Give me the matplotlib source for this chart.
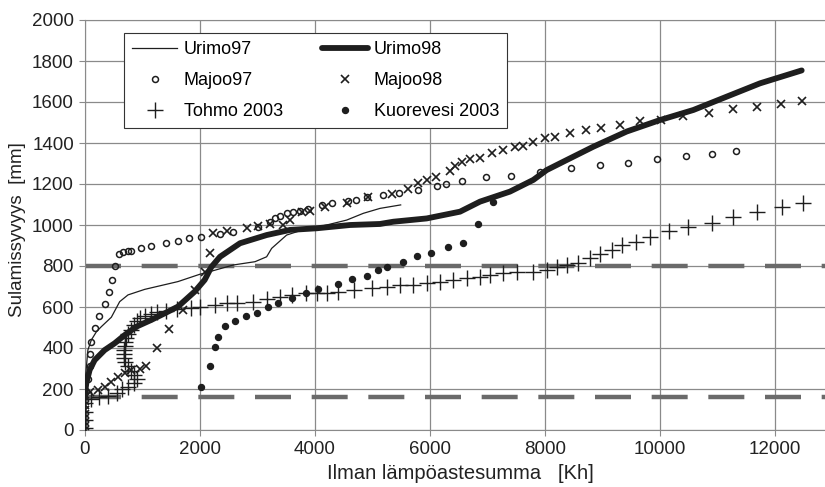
import matplotlib.pyplot as plt

plt.rcParams['font.family'] = ['Liberation Sans', 'DejaVu Sans']

# Urimo97 (ohut viiva)
urimo97_x = [0, 50, 110, 200, 284, 458, 603, 748, 1038, 1617, 2000, 2139, 2580, 2957,
             3159, 3246, 3507, 3739, 4203, 4551, 4841, 5130, 5490]
urimo97_y = [230, 390, 439, 480, 504, 550, 626, 659, 686, 724, 760, 770, 805, 821,
             845, 886, 951, 972, 1000, 1024, 1057, 1081, 1098]

# Urimo98 (paksu viiva)
urimo98_x = [0, 10, 23, 81, 168, 342, 516, 690, 893, 1153, 1385, 1617, 1907, 2081, 2197,
             2348, 2696, 3159, 3565, 4029, 4609, 5130, 5362, 5942, 6522, 6870, 7391, 7797,
             8029, 8377, 8841, 9421, 10000, 10580, 11159, 11739, 12464]
urimo98_y = [160, 200, 228, 293, 341, 390, 423, 463, 504, 537, 569, 602, 675, 732, 795,
             845, 911, 951, 976, 984, 1000, 1005, 1016, 1032, 1065, 1114, 1163, 1220,
             1268, 1317, 1382, 1456, 1512, 1561, 1626, 1691, 1754]

majoo97_x = [20, 50, 80, 80, 110, 170, 240, 350, 410, 470, 530, 590, 660, 740, 800, 970,
             1150, 1410, 1620, 1810, 2010, 2348, 2580, 3014, 3217, 3304, 3391, 3507, 3623,
             3739, 3884, 4116, 4290, 4580, 4714, 4899, 5177, 5467, 5797, 6127, 6278, 6551,
             6968, 7413, 7913, 8452, 8957, 9438, 9942, 10452, 10898, 11316]
majoo97_y = [190, 250, 310, 370, 430, 500, 556, 615, 675, 732, 800, 860, 870, 872, 875, 890,
             900, 910, 920, 935, 943, 956, 967, 992, 1016, 1032, 1044, 1057, 1065,
             1070, 1076, 1098, 1106, 1119, 1122, 1135, 1146, 1158, 1171, 1190, 1200, 1216,
             1232, 1241, 1260, 1276, 1293, 1301, 1320, 1337, 1345, 1362]

majoo98_x = [0, 0, 0, 0, 0, 0, 0, 0, 0, 81, 226, 342, 458, 574, 690, 806, 950, 1066, 1252,
             1461, 1704, 1907, 2081, 2174, 2226, 2464, 2812, 3000, 3217, 3449, 3565, 3768,
             3913, 4174, 4551, 4927, 5333, 5623, 5797, 5942, 6104, 6348, 6435, 6551, 6696,
             6870, 7072, 7275, 7478, 7623, 7797, 7999, 8174, 8435, 8713, 8974, 9304, 9652,
             10017, 10405, 10857, 11263, 11692, 12103, 12464]
majoo98_y = [0, 20, 40, 60, 80, 100, 120, 140, 160, 187, 195, 211, 236, 260, 276, 293, 300,
             314, 402, 495, 585, 683, 772, 865, 959, 971, 984, 995, 1005, 1000, 1024, 1065,
             1070, 1090, 1109, 1135, 1151, 1176, 1203, 1220, 1236, 1265, 1288, 1309, 1320,
             1325, 1350, 1366, 1382, 1385, 1406, 1422, 1428, 1447, 1463, 1471, 1488, 1509,
             1512, 1532, 1548, 1564, 1574, 1590, 1606]

tohmo_x = [0, 0, 0, 0, 100, 250, 400, 550, 650, 750, 850, 900, 850, 800, 750, 700, 680, 680,
           680, 690, 700, 720, 750, 800, 850, 900, 950, 1050, 1150, 1250, 1400, 1600, 1850,
           2000, 2261, 2464, 2638, 2928, 3159, 3391, 3594, 3843, 4029, 4203, 4406, 4678, 4986,
           5250, 5478, 5710, 5942, 6174, 6406, 6638, 6870, 7044, 7275, 7507, 7797, 8029,
           8203, 8377, 8580, 8783, 8957, 9159, 9333, 9583, 9826, 10162, 10492, 10898, 11275,
           11692, 12116, 12492]
tohmo_y = [10, 50, 90, 130, 150, 160, 165, 180, 200, 210, 230, 250, 270, 290, 310, 330, 350,
           370, 390, 410, 430, 450, 470, 490, 510, 530, 545, 555, 565, 575, 580, 590, 595,
           599, 610, 618, 621, 626, 638, 650, 659, 667, 670, 667, 675, 683, 691,
           700, 707, 707, 715, 723, 732, 740, 748, 756, 764, 772, 772, 780,
           797, 805, 813, 837, 858, 878, 902, 919, 943, 970, 992, 1011, 1037,
           1065, 1086, 1105]

kuorevesi_x = [2017, 2174, 2261, 2319, 2435, 2609, 2794, 2997, 3188, 3362, 3594, 3843, 4058,
               4406, 4638, 4899, 5101, 5246, 5536, 5768, 6011, 6319, 6568, 6841, 7101]
kuorevesi_y = [210, 314, 406, 455, 507, 532, 558, 572, 598, 621, 642, 670, 688,
               712, 737, 753, 780, 797, 821, 849, 865, 891, 914, 1005, 1110]

# katkoviivat (rajat)
rajat = [800, 160]

x_ticks = [0, 2000, 4000, 6000, 8000, 10000, 12000]
y_ticks = [0, 200, 400, 600, 800, 1000, 1200, 1400, 1600, 1800, 2000]

fig = plt.figure(figsize=(8.25, 4.87), dpi=100)
ax = fig.add_axes([85 / 825, 57 / 487, 805 / 825, 410 / 487])

for r in rajat:
    ax.axhline(r, color='#6a6a6a', lw=3.2, linestyle=(0, (8.1, 4.65)), zorder=1)

c = '#1e1e1e'
h1, = ax.plot(urimo97_x, urimo97_y, color=c, lw=0.9, label='Urimo97', zorder=3)
h2, = ax.plot(urimo98_x, urimo98_y, color=c, lw=4.2, label='Urimo98', zorder=3,
              solid_capstyle='round')
h3, = ax.plot(majoo97_x, majoo97_y, 'o', mfc='none', mec=c, mew=1.1, ms=4.3,
              label='Majoo97', zorder=4)
h4, = ax.plot(majoo98_x, majoo98_y, 'x', color=c, mew=1.2, ms=6, label='Majoo98', zorder=4)
h5, = ax.plot(tohmo_x, tohmo_y, '+', color=c, mew=1.0, ms=12, label='Tohmo 2003', zorder=4)
h6, = ax.plot(kuorevesi_x, kuorevesi_y, 'o', color=c, ms=4.3, label='Kuorevesi 2003', zorder=4)

ax.set_xlim(0, 14000)
ax.set_ylim(0, 2000)
ax.set_xticks(x_ticks)
ax.set_yticks(y_ticks)
ax.grid(True, color='#8a8a8a', lw=0.9)
ax.set_axisbelow(True)
for s in ax.spines.values():
    s.set_color('#8a8a8a')
ax.tick_params(labelsize=13.5, length=4, color='#8a8a8a', pad=4, labelcolor='#222222')

ax.set_xlabel('Ilman lämpöastesumma   [Kh]', fontsize=14.5, color='#222222')
ax.xaxis.set_label_coords((460 - 85) / 805, -0.082)
ax.set_ylabel('Sulamissyvyys  [mm]', fontsize=13.5, color='#222222')
ax.yaxis.set_label_coords(-0.073, 0.49)

leg = ax.legend([h1, h3, h5, h2, h4, h6],
                ['Urimo97', 'Majoo97', 'Tohmo 2003', 'Urimo98', 'Majoo98', 'Kuorevesi 2003'],
                ncol=2, loc='upper left', bbox_to_anchor=((124 - 85) / 805, (430 - 33) / 410),
                fontsize=13, frameon=True, fancybox=False, framealpha=1,
                edgecolor='#333333', handlelength=2.5, handletextpad=0.35,
                columnspacing=2.2, labelspacing=0.78, borderpad=0.45, borderaxespad=0)
leg.get_frame().set_linewidth(0.8)

plt.savefig('out.png', dpi=100)
